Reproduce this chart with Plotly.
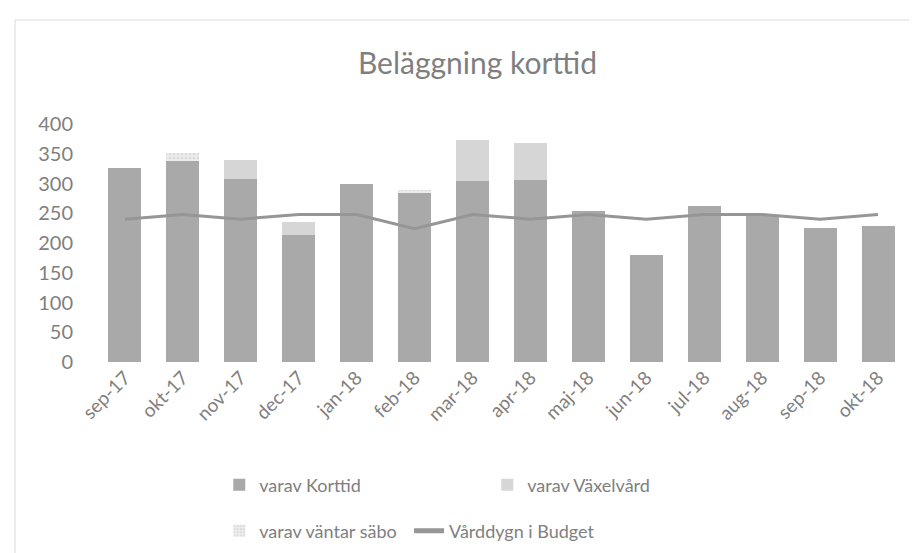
import plotly.graph_objects as go

months = ["sep-17", "okt-17", "nov-17", "dec-17", "jan-18", "feb-18", "mar-18",
          "apr-18", "maj-18", "jun-18", "jul-18", "aug-18", "sep-18", "okt-18"]
korttid = [326, 337, 308, 213, 299, 284, 304, 306, 254, 180, 262, 247, 225, 228]
vaxelvard = [0, 0, 32, 23, 0, 0, 69, 62, 0, 0, 0, 0, 0, 0]
vantar_sabo = [0, 15, 0, 0, 0, 5, 0, 0, 0, 0, 0, 0, 0, 0]
budget = [240, 248, 240, 248, 248, 224, 248, 240, 248, 240, 248, 248, 240, 248]

font_fam = "Lato, 'Open Sans', sans-serif"
txt = "#7f7f7f"

fig = go.Figure()
fig.add_trace(go.Bar(x=months, y=korttid, name="varav Korttid",
                     marker=dict(color="#a9a9a9", line=dict(width=0)), legend="legend"))
fig.add_trace(go.Bar(x=months, y=vaxelvard, name="varav Växelvård",
                     marker=dict(color="#d6d6d6", line=dict(width=0)), legend="legend"))
fig.add_trace(go.Bar(x=months, y=vantar_sabo, name="varav väntar säbo",
                     marker=dict(color="#ececec", line=dict(width=0),
                                 pattern=dict(shape=".", fgcolor="#c8c8c8", size=4, solidity=0.3)),
                     legend="legend2"))
fig.add_trace(go.Scatter(x=months, y=budget, name="Vårddygn i Budget", mode="lines",
                         line=dict(color="#969696", width=3), legend="legend3"))

leg_common = dict(orientation="h", xanchor="left", yanchor="middle", traceorder="normal",
                  font=dict(size=18, color=txt), itemsizing="constant",
                  bgcolor="rgba(0,0,0,0)")

fig.update_layout(
    width=917, height=553,
    barmode="stack", bargap=0.43,
    paper_bgcolor="white", plot_bgcolor="white",
    margin=dict(l=88, r=18, t=116, b=199),
    font=dict(family=font_fam, color=txt, size=18),
    title=dict(text="Beläggning korttid", x=0.512, xanchor="center", y=0.9, yanchor="middle",
               font=dict(size=30, color=txt, family=font_fam)),
    xaxis=dict(tickangle=-45, showgrid=False, showline=False, ticks="",
               tickfont=dict(size=19, color=txt)),
    yaxis=dict(range=[0, 400], dtick=50, showgrid=False, showline=False, ticks="",
               zeroline=False, tickfont=dict(size=20, color=txt), ticklabelstandoff=22),
    legend=dict(x=0.152, y=-0.517, entrywidth=223, entrywidthmode="pixels", **leg_common),
    legend2=dict(x=0.152, y=-0.71, **leg_common),
    legend3=dict(x=0.386, y=-0.71, **leg_common),
    showlegend=True,
)

# light chart-area border
fig.add_shape(type="rect", xref="paper", yref="paper",
              x0=-81/811, x1=1.05, y0=-0.9, y1=(354-12)/238,
              line=dict(color="#d9d9d9", width=1), fillcolor="rgba(0,0,0,0)", layer="below")

fig.write_html("out.html")
